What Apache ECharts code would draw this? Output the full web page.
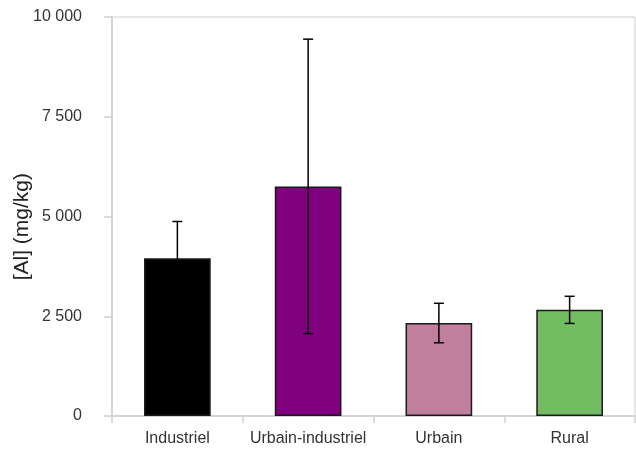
<!DOCTYPE html>
<html>
<head>
<meta charset="utf-8">
<script src="https://cdn.jsdelivr.net/npm/echarts@6/dist/echarts.min.js"></script>
<style>
  html, body { margin: 0; padding: 0; background: #fff; }
  #chart { width: 636px; height: 452px; }
</style>
</head>
<body>
<div id="chart"></div>
<script>
const categories = ['Industriel', 'Urbain-industriel', 'Urbain', 'Rural']
const means = [3955, 5755, 2330, 2660]
const errors = [920, 3690, 495, 340]
const barColors = ['#000000', '#800080', '#c0809d', '#72bd62']
const yTicks = [0, 2500, 5000, 7500, 10000]
const yTitle = '[Al] (mg/kg)'

const chart = echarts.init(document.getElementById('chart'))

const fmt = v => String(v).replace(/\B(?=(\d{3})+(?!\d))/g, ' ')

const errorData = means.map((m, i) => [i, m - errors[i], m + errors[i]])

const option = {
  animation: false,
  textStyle: { fontFamily: 'Liberation Sans, Arial, sans-serif' },
  grid: {
    left: 112, right: 1, top: 17, bottom: 36,
    show: true, borderColor: '#cfcfcf', borderWidth: 1
  },
  graphic: [{
    type: 'text',
    left: 12,
    top: 173,
    rotation: Math.PI / 2,
    style: {
      text: yTitle,
      fill: '#222',
      font: '21px "Liberation Sans", Arial, sans-serif'
    }
  }],
  xAxis: {
    type: 'category',
    data: categories,
    axisLine: { lineStyle: { color: '#cfcfcf', width: 1.5 } },
    axisTick: { show: true, interval: 0, length: 7, lineStyle: { color: '#cfcfcf', width: 1.5 } },
    axisLabel: { color: '#333', fontSize: 16, margin: 15, interval: 0, hideOverlap: false }
  },
  yAxis: {
    type: 'value',
    min: 0, max: 10000, interval: 2500,
    axisLine: { show: true, lineStyle: { color: '#cfcfcf', width: 1.5 } },
    axisTick: { show: true, length: 8, lineStyle: { color: '#cfcfcf', width: 1.5 } },
    splitLine: { show: false },
    axisLabel: {
      color: '#333', fontSize: 16, margin: 30,
      formatter: v => yTicks.includes(v) ? fmt(v) : ''
    }
  },
  series: [
    {
      type: 'bar',
      barWidth: '51%',
      data: means.map((v, i) => ({
        value: v,
        itemStyle: { color: barColors[i], borderColor: '#1a1a1a', borderWidth: 1.5 }
      }))
    },
    {
      type: 'custom',
      z: 10,
      data: errorData,
      renderItem: (params, api) => {
        const x = api.value(0)
        const lo = api.coord([x, api.value(1)])
        const hi = api.coord([x, api.value(2)])
        const cap = 5
        const style = { stroke: '#000', lineWidth: 1.5 }
        return {
          type: 'group',
          children: [
            { type: 'line', shape: { x1: hi[0], y1: hi[1], x2: lo[0], y2: lo[1] }, style },
            { type: 'line', shape: { x1: hi[0] - cap, y1: hi[1], x2: hi[0] + cap, y2: hi[1] }, style },
            { type: 'line', shape: { x1: lo[0] - cap, y1: lo[1], x2: lo[0] + cap, y2: lo[1] }, style }
          ]
        }
      }
    }
  ]
}

chart.setOption(option)
</script>
</body>
</html>
